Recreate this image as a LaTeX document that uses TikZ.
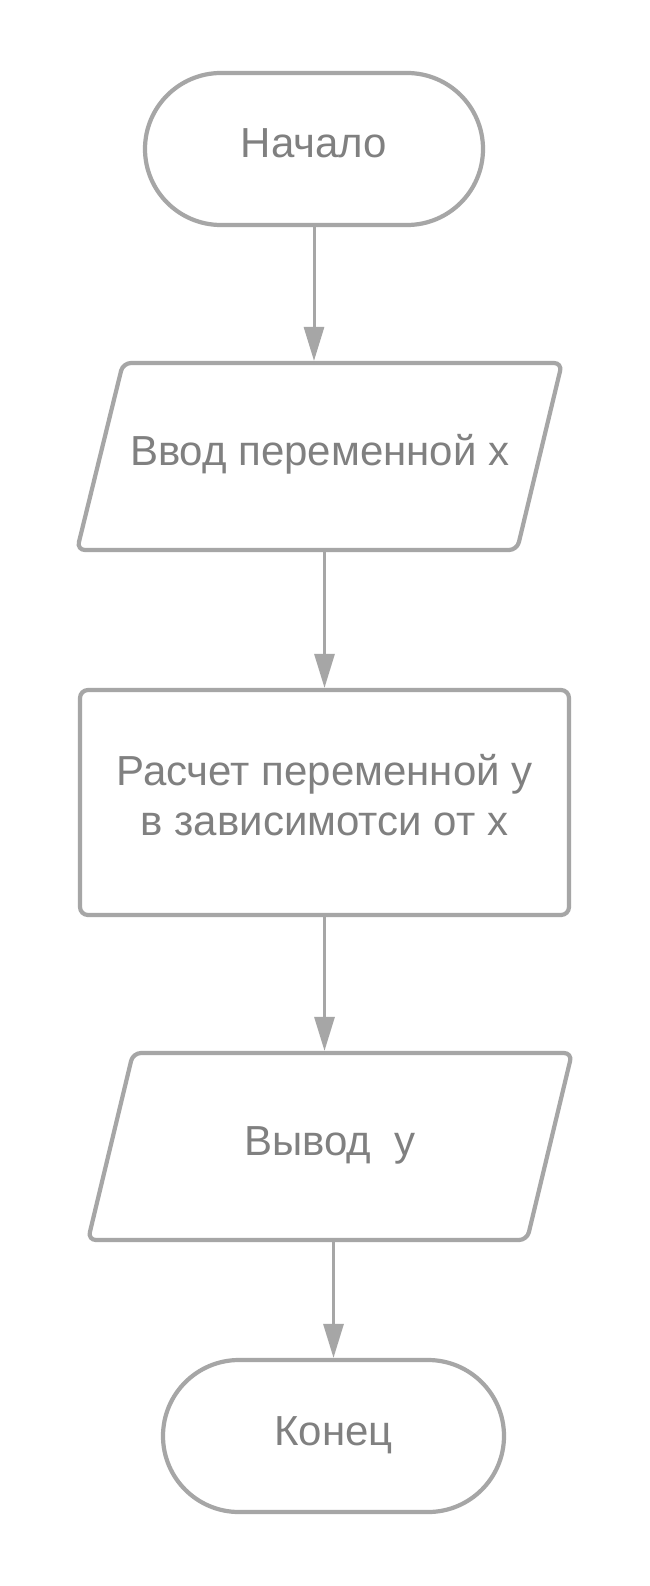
\documentclass[tikz,border=0pt]{standalone}
\usepackage{fontspec}
\setmainfont{Liberation Sans}
\usetikzlibrary{arrows.meta,shapes.misc}
\definecolor{linegray}{RGB}{166,166,166}
\definecolor{textgray}{RGB}{128,128,128}
\begin{document}
\begin{tikzpicture}[x=1pt,y=-1pt,
  every node/.style={font=\fontsize{42}{50}\selectfont, text=textgray, inner sep=0pt},
  outline/.style={draw=linegray, line width=4.2pt},
  terminal/.style={outline, rounded rectangle, minimum width=#1, minimum height=152pt,
    text height=30pt, text depth=12pt},
  iotext/.style={rectangle, minimum width=485pt, minimum height=187pt, outer sep=2.1pt,
    text height=30pt, text depth=12pt},
  process/.style={outline, rectangle, rounded corners=8pt, minimum width=489pt,
    minimum height=225pt, align=center, text height=80pt, text depth=15pt},
  flow/.style={draw=linegray, line width=3pt, -{Triangle[length=34pt,width=20pt]}}
]
% canvas
\fill[white] (0,0) rectangle (649,1586);
\useasboundingbox (0,0) rectangle (649,1586);

% start / end terminals
\node[terminal=338pt] (start) at (314,149) {Начало};
\node[terminal=341pt] (stop) at (333.5,1436) {Конец};

% input parallelogram
\draw[outline, rounded corners=8pt] (123,363) -- (562,363) -- (517,550) -- (77,550) -- cycle;
\node[iotext] (in1) at (319.75,456.5) {Ввод переменной х};

% processing block
\node[process] (proc) at (324.5,802.5) {Расчет переменной у\\в зависимотси от х};

% output parallelogram
\draw[outline, rounded corners=8pt] (133,1053) -- (572,1053) -- (527,1240) -- (88,1240) -- cycle;
\node[iotext] (out1) at (330,1146.5) {Вывод\ \ у};

% connectors
\draw[flow] (start.south) -- (start.south |- in1.north);
\draw[flow] (proc.north |- in1.south) -- (proc.north);
\draw[flow] (proc.south) -- (proc.south |- out1.north);
\draw[flow] (stop.north |- out1.south) -- (stop.north);
\end{tikzpicture}
\end{document}
